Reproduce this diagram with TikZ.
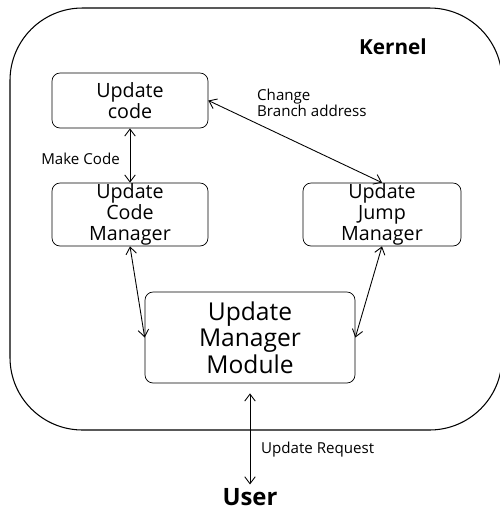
\documentclass[tikz,border=0pt]{standalone}
\usepackage{fontspec}
\setmainfont{Open Sans}
\usetikzlibrary{arrows.meta}
\tikzset{
	box/.style={draw, rounded corners=0.16cm, align=center, inner sep=0pt, font=\fontsize{11.2}{12}\selectfont},
	link/.style={{Straight Barb[length=4pt,width=6pt]}-{Straight Barb[length=4pt,width=6pt]}, line width=0.5pt},
	lbl/.style={font=\fontsize{8.6}{9}\selectfont}
}
\begin{document}
\begin{tikzpicture}[x=0.02cm, y=-0.02cm]
		\useasboundingbox (0,0) rectangle (500,512);
		\draw[line width=0.6pt, rounded corners=1.45cm] (10,8) rectangle (502,430);
		\node[font=\bfseries\fontsize{11.8}{12}\selectfont] (kernel) at (393,47) {Kernel};
		\node[box, minimum width=3.12cm, minimum height=1.1cm] (code) at (130,100.5) {Update\\code};
		\node[box, minimum width=3.12cm, minimum height=1.26cm] (ucm) at (130,214.5) {Update\\Code\\Manager};
		\node[box, minimum width=3.16cm, minimum height=1.26cm] (ujm) at (382,214.5) {Update\\Jump\\Manager};
		\node[box, minimum width=4.2cm, minimum height=1.82cm, font=\fontsize{14}{15.2}\selectfont] (umm) at (250,337.5) {Update\\Manager\\Module};
		\node[font=\bfseries\fontsize{13.6}{14}\selectfont, inner sep=2pt] (user) at (250,497) {User};
		% connectors
		\draw[link] (code.south) -- (ucm.north);
		\draw[link] (code.east) -- (ujm.north);
		\draw[link] (ucm.south) -- (umm.west);
		\draw[link] (ujm.south) -- (umm.east);
		\draw[link, shorten <=10*0.02cm] (umm.south) -- (user.north);
		% labels
		\node[lbl, anchor=east] (makecode) at (126,159) {Make Code};
		\node[lbl, anchor=west, align=left] (change) at (251,102.5) {Change\\Branch address};
		\node[lbl, anchor=west] (request) at (255,450) {Update Request};
	\end{tikzpicture}
\end{document}
